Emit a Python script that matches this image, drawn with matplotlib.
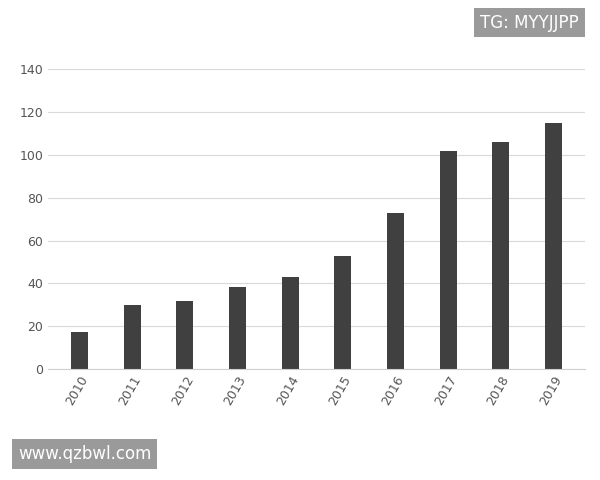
import matplotlib
matplotlib.use("Agg")
import matplotlib.pyplot as plt

years = ["2010","2011","2012","2013","2014","2015","2016","2017","2018","2019"]
values = [17.3, 29.9, 32, 38.3, 42.9, 52.7, 72.8, 101.7, 105.9, 114.8]
yticks = [0, 20, 40, 60, 80, 100, 120, 140]

fig = plt.figure(figsize=(6, 4.8), dpi=100)
ax = fig.add_axes([0.08, 0.231, 0.895, 0.625])
ax.bar(years, values, width=0.32, color="#404040")
ax.set_ylim(0, 140)
ax.set_xlim(-0.6, 9.6)
ax.set_yticks(yticks)
ax.yaxis.grid(True, color="#d9d9d9", linewidth=0.8)
ax.set_axisbelow(True)
for s in ["top", "right", "left"]:
    ax.spines[s].set_visible(False)
ax.spines["bottom"].set_color("#d0d0d0")
ax.tick_params(axis="both", length=0, labelsize=9, colors="#555555")
plt.setp(ax.get_xticklabels(), rotation=60, ha="right", rotation_mode="anchor")

fig.text(0.965, 0.953, "TG: MYYJJPP", ha="right", va="center", fontsize=12, color="white",
         bbox=dict(boxstyle="square,pad=0.35", fc="#9a9a9a", ec="none"))
fig.text(0.03, 0.054, "www.qzbwl.com", ha="left", va="center", fontsize=12, color="white",
         bbox=dict(boxstyle="square,pad=0.35", fc="#9a9a9a", ec="none"))
fig.savefig("out.png", dpi=100, facecolor="white")
